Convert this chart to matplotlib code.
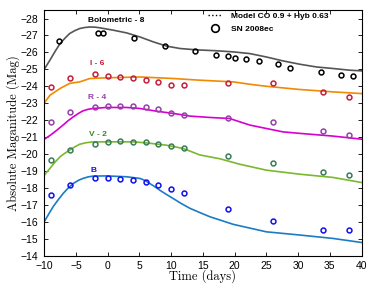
import matplotlib
matplotlib.use("Agg")
import matplotlib.pyplot as plt
from matplotlib.lines import Line2D

plt.rcParams["font.family"] = ["Liberation Sans", "DejaVu Sans"]

# ---- observed points (SN 2008ec), offsets already applied ----
bol_t = [-7.7, -1.5, -0.7, 4.2, 9.1, 13.8, 17.1, 19.0, 20.1, 21.8, 23.8, 26.8, 28.7, 33.6, 36.7, 38.7]
bol_m = [-26.68, -27.17, -27.17, -26.86, -26.38, -26.11, -25.87, -25.78, -25.66, -25.6, -25.48, -25.29, -25.05, -24.87, -24.64, -24.58]

obs_t = [-9, -6, -2, 0, 2, 4, 6, 8, 10, 12, 19, 26, 34, 38]
i_m = [-23.96, -24.46, -24.7, -24.61, -24.52, -24.48, -24.4, -24.28, -24.07, -24.07, -24.22, -24.18, -23.65, -23.36]
r_m = [-21.92, -22.49, -22.78, -22.83, -22.83, -22.83, -22.75, -22.63, -22.43, -22.31, -22.14, -21.9, -21.39, -21.11]
v_m = [-19.64, -20.23, -20.58, -20.74, -20.76, -20.74, -20.70, -20.60, -20.47, -20.35, -19.89, -19.48, -18.95, -18.75]
b_m = [-17.56, -18.2, -18.56, -18.6, -18.54, -18.48, -18.38, -18.2, -17.95, -17.69, -16.77, -16.02, -15.53, -15.49]

# ---- model curves (CO 0.9 + Hyb 0.63) ----
bol_mt = [-10, -9.1, -8.3, -7.5, -6.7, -6, -5.2, -4.4, -3.6, -2.8, -2, -1.2, 0.9, 3, 5.1, 7.2, 9.3, 11.4, 14, 17, 19.8, 22.4, 25, 27.6, 30.3, 32.9, 35.5, 38.1, 40]
bol_mm = [-25.0, -25.54, -26.05, -26.52, -26.85, -27.11, -27.28, -27.41, -27.47, -27.5, -27.49, -27.45, -27.31, -27.15, -26.91, -26.62, -26.37, -26.23, -26.15, -26.1, -26.03, -25.93, -25.73, -25.5, -25.3, -25.14, -25.05, -24.95, -24.91]

i_mt = [-10, -9.1, -7.5, -6, -4.4, -2.8, -0.2, 5.1, 10.3, 14.5, 19.8, 22.4, 25, 30.3, 35.5, 40]
i_mm = [-23.0, -23.47, -23.87, -24.17, -24.26, -24.46, -24.5, -24.55, -24.46, -24.36, -24.26, -24.12, -24.0, -23.81, -23.67, -23.57]

r_mt = [-10, -9, -8, -7, -6.2, -5.4, -4.6, -3.9, -3.1, -2.3, -0.2, 3, 5.1, 7.7, 10.3, 13, 16.1, 19.2, 22.4, 25, 27.6, 30.3, 35.5, 40]
r_mm = [-20.87, -21.12, -21.41, -21.72, -21.98, -22.2, -22.4, -22.55, -22.64, -22.69, -22.75, -22.75, -22.69, -22.53, -22.4, -22.24, -22.16, -22.1, -21.71, -21.51, -21.31, -21.22, -21.06, -20.88]

v_mt = [-10, -9.1, -8.3, -7.5, -6.7, -6, -5.2, -4.4, -3.4, -2.3, -0.2, 4, 6.1, 9.3, 11.9, 14.5, 17.7, 20.8, 25, 30.3, 35.5, 40]
v_mm = [-18.75, -19.15, -19.52, -19.84, -20.06, -20.23, -20.42, -20.58, -20.67, -20.72, -20.72, -20.72, -20.66, -20.52, -20.33, -19.95, -19.72, -19.4, -19.05, -18.81, -18.62, -18.32]

b_mt = [-10, -9.3, -8.6, -7.8, -7, -6.2, -5.4, -4.6, -3.9, -3.1, -2.3, -0.2, 3, 5.1, 5.9, 6.6, 7.4, 8.2, 9.2, 10.3, 11.6, 13, 14.5, 16.1, 19.8, 25, 30.3, 35.5, 40]
b_mm = [-16.0, -16.45, -16.89, -17.3, -17.68, -18.0, -18.27, -18.45, -18.56, -18.65, -18.7, -18.71, -18.66, -18.56, -18.44, -18.27, -18.08, -17.87, -17.63, -17.38, -17.08, -16.79, -16.55, -16.3, -15.85, -15.41, -15.22, -15.02, -14.78]

bands = [
    # model t, model m, obs t, obs m, line colour, point colour, label, label pos
    (bol_mt, bol_mm, bol_t, bol_m, "#555555", "black", "Bolometric - 8", (1.4, -27.86)),
    (i_mt, i_mm, obs_t, i_m, "#F08A00", "#C41E3A", "I - 6", (-1.6, -25.35)),
    (r_mt, r_mm, obs_t, r_m, "#D600D0", "#9440A8", "R - 4", (-1.6, -23.32)),
    (v_mt, v_mm, obs_t, v_m, "#7AB82E", "#3A7A58", "V - 2", (-1.6, -21.16)),
    (b_mt, b_mm, obs_t, b_m, "#1A7CC4", "#1010F0", "B", (-2.3, -19.05)),
]
label_colors = ["black", "#C41E3A", "#9440A8", "#2E8B22", "#1010F0"]

fig = plt.figure(figsize=(3.81, 2.87), dpi=100)
ax = fig.add_axes([0.116, 0.109, 0.833, 0.856])

for (mt, mm, ot, om, lc, pc, lab, pos), tc in zip(bands, label_colors):
    ax.plot(mt, mm, color=lc, lw=1.2, zorder=2)
    ax.plot(ot, om, ls="none", marker="o", ms=3.5, mfc="none", mec=pc, mew=1.1, zorder=3)
    ax.text(pos[0], pos[1], lab, color=tc, fontsize=6, fontweight="bold",
            ha="center", va="center")

ax.set_xlim(-10, 40)
ax.set_ylim(-14, -28.5)
ax.set_xticks(range(-10, 41, 5))
ax.set_yticks(range(-28, -13, 1))
ax.tick_params(direction="in", top=True, right=True, labelsize=7.5, length=3, width=0.6)
ax.tick_params(axis="x", pad=3.5)
ax.tick_params(axis="y", pad=4.5)
for s in ax.spines.values():
    s.set_linewidth(0.8)

ax.set_xlabel("Time (days)", fontname="cmr10", fontsize=9, labelpad=-1)
ax.set_ylabel("Absolute Maganitude (Mag)", fontname="cmr10", fontsize=9, labelpad=0)

handles = [
    Line2D([], [], color="black", ls=":", lw=1.0),
    Line2D([], [], ls="none", marker="o", ms=5.5, mfc="none", mec="black", mew=1.2),
]
ax.legend(handles, ["Model CO 0.9 + Hyb 0.63", "SN 2008ec"], loc="upper left",
          bbox_to_anchor=(0.516, 0.99), frameon=False,
          prop={"size": 6, "weight": "bold"}, handlelength=1.6,
          handletextpad=1.2, borderpad=0, borderaxespad=0, labelspacing=0.6)

fig.savefig("out.png", dpi=100)
